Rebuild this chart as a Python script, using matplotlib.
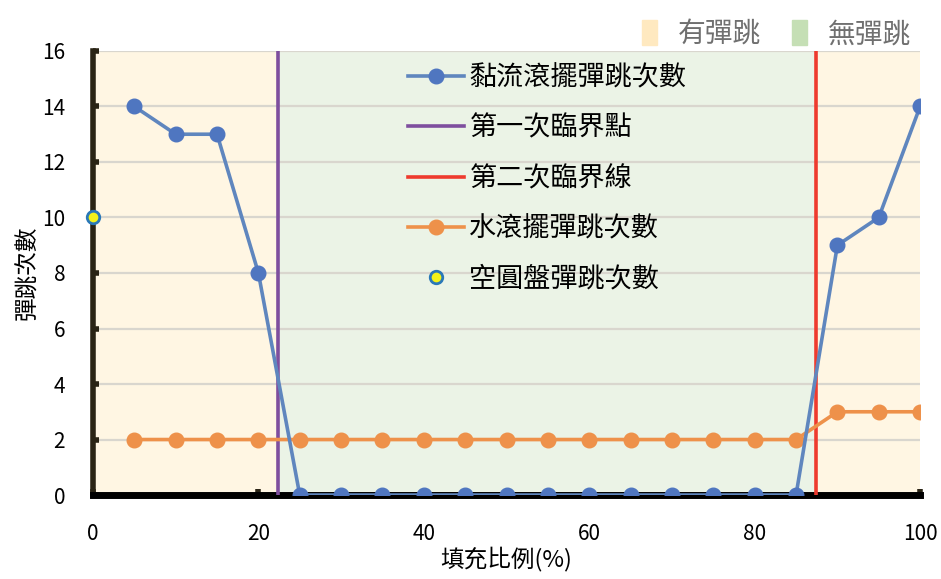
import matplotlib
matplotlib.use("Agg")
import matplotlib.pyplot as plt
from matplotlib.patches import Patch

plt.rcParams['font.family'] = ['Noto Sans CJK TC', 'DejaVu Sans']

# data
fill_x = [5, 10, 15, 20, 25, 30, 35, 40, 45, 50, 55, 60, 65, 70, 75, 80, 85, 90, 95, 100]
sticky = [14, 13, 13, 8, 0, 0, 0, 0, 0, 0, 0, 0, 0, 0, 0, 0, 0, 9, 10, 14]
water = [2, 2, 2, 2, 2, 2, 2, 2, 2, 2, 2, 2, 2, 2, 2, 2, 2, 3, 3, 3]
empty_x = [0]
empty_y = [10]
first_crit = 22.4
second_crit = 87.4

labels = ['黏流滾擺彈跳次數', '第一次臨界點', '第二次臨界線', '水滾擺彈跳次數', '空圓盤彈跳次數']
region_labels = ['有彈跳', '無彈跳']

fig = plt.figure(figsize=(9.41, 5.79), dpi=100)
ax = fig.add_axes([0.0988, 0.145, 0.879, 0.767])

ax.set_xlim(0, 100)
ax.set_ylim(0, 16)

# background zones
ax.axvspan(0, first_crit, color='#FFF6E3', zorder=0)
ax.axvspan(first_crit, second_crit, color='#EBF3E6', zorder=0)
ax.axvspan(second_crit, 100, color='#FFF6E3', zorder=0)

ax.set_yticks(range(0, 17, 2))
ax.set_xticks(range(0, 101, 20))
ax.grid(axis='y', color='#D9D6CE', linewidth=1.6, zorder=1)
ax.set_axisbelow(True)

l1, = ax.plot(fill_x, sticky, color='#5F86BE', lw=2.6, marker='o', ms=10.5,
              mfc='#4F76C0', mec='#4F76C0', zorder=4)
l2 = ax.axvline(first_crit, color='#7E4E9E', lw=2.6, zorder=3)
l3 = ax.axvline(second_crit, color='#EE3A2E', lw=2.6, zorder=3)
l4, = ax.plot(fill_x, water, color='#EE914A', lw=2.6, marker='o', ms=10.5,
              mfc='#EE914A', mec='#EE914A', zorder=3)
l5, = ax.plot(empty_x, empty_y, ls='none', marker='o', ms=9, mfc='#F4F21A',
              mec='#2A78B8', mew=2, zorder=6, clip_on=False)

for s in ['top', 'right']:
    ax.spines[s].set_visible(False)
ax.spines['left'].set_linewidth(4)
ax.spines['left'].set_color('#2A2415')
ax.spines['bottom'].set_linewidth(5)
ax.spines['bottom'].set_color('black')
ax.tick_params(axis='both', direction='in', length=4, width=4, color='#2A2415',
               labelsize=15)
ax.tick_params(axis='y', pad=20)
ax.tick_params(axis='x', pad=20)

ax.set_xlabel('填充比例(%)', fontsize=17, labelpad=1)
ax.set_ylabel('彈跳次數', fontsize=17, labelpad=2)

ax.legend([l1, l2, l3, l4, l5], labels, loc='upper left', bbox_to_anchor=(0.365, 1.0),
          frameon=False, fontsize=19.5, handlelength=2.05, labelspacing=0.86,
          handletextpad=0.2, borderaxespad=0.1)

handles = [Patch(color='#FFE9C0'), Patch(color='#C5DFB5')]
fig.legend(handles, region_labels, loc='upper right', bbox_to_anchor=(0.995, 1.01),
           ncol=2, frameon=False, fontsize=20, handlelength=0.55, handleheight=1.0,
           handletextpad=0.75, columnspacing=1.1, labelcolor='#707070')

fig.savefig('out.png', dpi=100)
